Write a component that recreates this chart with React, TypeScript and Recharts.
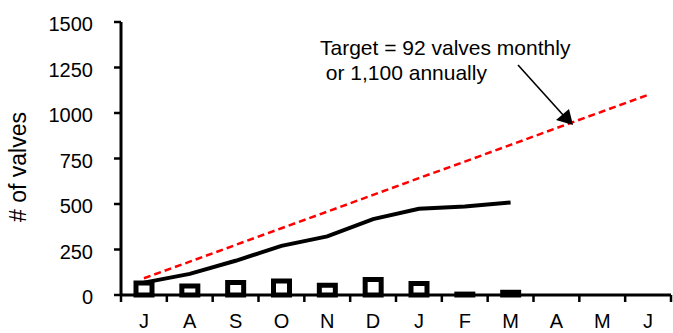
import React from 'react';
import {
  ComposedChart,
  Bar,
  Line,
  XAxis,
  YAxis,
  ReferenceLine,
} from 'recharts';

// Fiscal-year months (July to June)
const months = ['Jul', 'Aug', 'Sep', 'Oct', 'Nov', 'Dec', 'Jan', 'Feb', 'Mar', 'Apr', 'May', 'Jun'];
const monthLetters = ['J', 'A', 'S', 'O', 'N', 'D', 'J', 'F', 'M', 'A', 'M', 'J'];

// Valves replaced each month
const monthlyValves = [66, 50, 68, 77, 54, 85, 63, 5, 15, null, null, null];
// Running total for the year
const cumulativeValves = [68, 116, 188, 270, 322, 417, 474, 486, 508, null, null, null];
// Target of 92 valves per month, 1,100 for the year
const targetValves = [92, 183, 275, 367, 458, 550, 642, 733, 825, 917, 1008, 1100];

const yTicks = [0, 250, 500, 750, 1000, 1250, 1500];

const data = months.map((m, i) => ({
  month: m,
  monthly: monthlyValves[i],
  cumulative: cumulativeValves[i],
  target: targetValves[i],
}));

const W = 673;
const H = 333;
const LEFT = 121;
const RIGHT_MARGIN = 2;
const TOP = 22;
const X_AXIS_H = 38;
const BAND = (W - LEFT - RIGHT_MARGIN) / months.length;
const FONT = '"Liberation Sans", Arial, Helvetica, sans-serif';

// Month letter centred in its band, tick marks on the band edges
const MonthTick = (props: any) => {
  const { x, y, index } = props;
  const left = x - BAND / 2;
  return (
    <g>
      <line x1={left} y1={y - 8} x2={left} y2={y - 1} stroke="#000" strokeWidth={2.5} />
      {index === months.length - 1 && (
        <line x1={left + BAND} y1={y - 8} x2={left + BAND} y2={y - 1} stroke="#000" strokeWidth={2.5} />
      )}
      <text x={x} y={y + 24.5} textAnchor="middle" fontSize={20} fontFamily={FONT} fill="#000">
        {monthLetters[index]}
      </text>
    </g>
  );
};

const ValueTick = (props: any) => {
  const { x, y, payload } = props;
  return (
    <text x={x} y={y + 9} textAnchor="end" fontSize={20} fontFamily={FONT} fill="#000">
      {payload.value}
    </text>
  );
};

// White notch across the vertical axis marking the scale break
const AxisBreak = (props: any) => {
  const { x1, y1 } = props;
  return <rect x={x1 - 4} y={y1 - 1.5} width={8} height={3} fill="#fff" />;
};

const YLabel = () => (
  <text
    x={26}
    y={167}
    transform="rotate(-90 26 167)"
    textAnchor="middle"
    fontSize={23}
    fontFamily={FONT}
    fill="#000"
  >
    # of valves
  </text>
);

export default function App() {
  return (
    <div style={{ position: 'absolute', left: 0, top: 0, width: W, height: H, background: '#fff' }}>
      <ComposedChart
        width={W}
        height={H}
        data={data}
        margin={{ top: TOP, right: RIGHT_MARGIN, bottom: 0, left: 0 }}
        barCategoryGap={0}
      >
        <XAxis
          dataKey="month"
          height={X_AXIS_H}
          axisLine={{ stroke: '#000', strokeWidth: 3 }}
          tickLine={false}
          tick={<MonthTick />}
          interval={0}
        />
        <YAxis
          width={LEFT}
          domain={[0, 1500]}
          ticks={yTicks}
          interval={0}
          axisLine={{ stroke: '#000', strokeWidth: 3 }}
          tickLine={{ stroke: '#000', strokeWidth: 2.5 }}
          tickSize={7}
          tickMargin={21}
          tick={<ValueTick />}
          label={<YLabel />}
        />
        <Bar
          dataKey="monthly"
          barSize={16}
          fill="#fff"
          stroke="#000"
          strokeWidth={5}
          isAnimationActive={false}
        />
        <Line
          dataKey="cumulative"
          stroke="#000"
          strokeWidth={4}
          dot={false}
          connectNulls={false}
          isAnimationActive={false}
        />
        <Line
          dataKey="target"
          stroke="#ff0000"
          strokeWidth={2.5}
          strokeDasharray="7 4"
          dot={false}
          isAnimationActive={false}
        />
        <ReferenceLine y={800} stroke="none" shape={<AxisBreak />} ifOverflow="visible" />
      </ComposedChart>
      <svg
        width={W}
        height={H}
        style={{ position: 'absolute', left: 0, top: 0, pointerEvents: 'none' }}
      >
        <text x={320} y={55} fontSize={21} fontFamily={FONT} fill="#000">
          Target = 92 valves monthly
        </text>
        <text x={320} y={80} fontSize={21} fontFamily={FONT} fill="#000" xmlSpace="preserve">
          {' or 1,100 annually'}
        </text>
        <line x1={518} y1={65} x2={564} y2={116} stroke="#000" strokeWidth={1.6} />
        <polygon points="573,125 556,120 569,109" fill="#000" />
      </svg>
    </div>
  );
}
